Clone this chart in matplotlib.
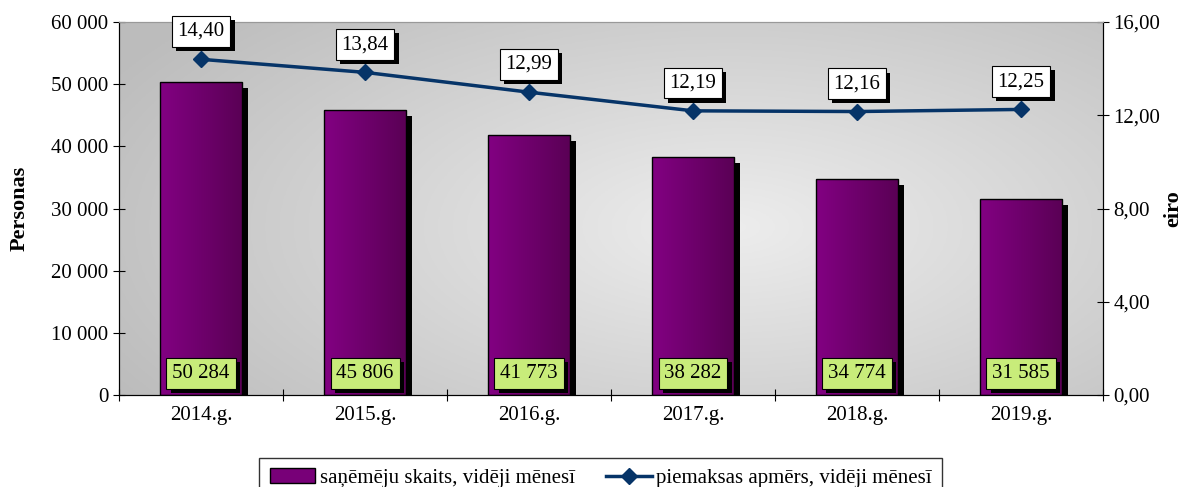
import matplotlib.pyplot as plt
import matplotlib.transforms as mtransforms
import matplotlib.patheffects as pe
import numpy as np
from matplotlib.patches import Rectangle, Patch
from matplotlib.lines import Line2D

plt.rcParams['font.family'] = ['Liberation Serif', 'DejaVu Serif']

years = ["2014.g.", "2015.g.", "2016.g.", "2017.g.", "2018.g.", "2019.g."]
recipients = [50284, 45806, 41773, 38282, 34774, 31585]
payment = [14.40, 13.84, 12.99, 12.19, 12.16, 12.25]

FS = 15
shadow = [pe.withSimplePatchShadow(offset=(3, -3), shadow_rgbFace='black', alpha=1.0)]

fig = plt.figure(figsize=(11.89, 4.87), dpi=100)
ax = fig.add_axes([0.1001, 0.1889, 0.8276, 0.7659])
ax2 = ax.twinx()

x = np.arange(len(years))

# grey background with a light spot in the middle
gx, gy = np.meshgrid(np.linspace(0, 1, 300), np.linspace(0, 1, 150))
r = np.sqrt(((gx - 0.62) / 0.75) ** 2 + ((gy - 0.45) / 0.9) ** 2)
bg = np.clip(0.93 - 0.2 * r, 0.74, 0.93)
ax.imshow(np.dstack([bg, bg, bg]), extent=[0, 1, 0, 1], transform=ax.transAxes,
          aspect='auto', zorder=0, origin='lower')

w = 0.5
grad = np.linspace(0, 1, 100).reshape(1, -1)
c1 = np.array([0x82, 0x00, 0x82]) / 255
c2 = np.array([0x5a, 0x00, 0x55]) / 255
bar_img = c1 + (c2 - c1) * grad[..., None]
off = mtransforms.ScaledTranslation(6 / 100, -6 / 100, fig.dpi_scale_trans)
for xi, v in zip(x, recipients):
    sh = Rectangle((xi - w / 2, 0), w, v, facecolor='black', edgecolor='none', zorder=1,
                   transform=ax.transData + off)
    ax.add_patch(sh)
    im = ax.imshow(bar_img, extent=[xi - w / 2, xi + w / 2, 0, v], aspect='auto', zorder=2)
    rect = Rectangle((xi - w / 2, 0), w, v, facecolor='none', edgecolor='black', lw=1, zorder=3)
    ax.add_patch(rect)
    im.set_clip_path(rect)
    t = ax.text(xi, 3500, f"{v:,}".replace(",", " "), ha='center', va='center', fontsize=FS, zorder=5,
                bbox=dict(boxstyle='square,pad=0.28', facecolor='#c8ec7a', edgecolor='black', lw=0.8))
    t.get_bbox_patch().set_path_effects(shadow)
ax.set_xlim(-0.5, len(years) - 0.5)
ax.set_ylim(0, 60000)
ax2.set_ylim(0, 16)

line_color = '#063468'
ax2.plot(x, payment, color=line_color, lw=2.5, marker='D', markersize=8, zorder=5)
for xi, v in zip(x, payment):
    s = f"{v:.2f}".replace(".", ",")
    t = ax2.annotate(s, (xi, v), xytext=(0, 20), textcoords='offset points', ha='center', va='center',
                     fontsize=FS,
                     bbox=dict(boxstyle='square,pad=0.28', facecolor='white', edgecolor='black', lw=0.8))
    t.get_bbox_patch().set_path_effects(shadow)

ax.set_xticks(np.arange(-0.5, len(years), 1))
ax.set_xticklabels([])
ax.set_xticks(x, minor=True)
ax.set_xticklabels(years, minor=True, fontsize=FS)
ax.tick_params(axis='x', which='major', direction='inout', length=8)
ax.tick_params(axis='x', which='minor', length=0, pad=8)
ax.set_yticks(np.arange(0, 60001, 10000))
ax.set_yticklabels([f"{v:,}".replace(",", " ") for v in range(0, 60001, 10000)], fontsize=FS)
ax.tick_params(axis='y', direction='inout', length=8)
ax2.set_yticks(np.arange(0, 16.1, 4))
ax2.set_yticklabels([f"{v:.2f}".replace(".", ",") for v in np.arange(0, 16.1, 4)], fontsize=FS)
ax2.tick_params(axis='y', direction='inout', length=8)

ax.set_ylabel("Personas", fontsize=16, fontweight='bold', labelpad=16)
ax2.set_ylabel("eiro", fontsize=16, fontweight='bold', labelpad=2)

ax.spines['top'].set_color('#999999')
ax2.spines['top'].set_color('#999999')

handles = [Patch(facecolor='#780078', edgecolor='black'),
           Line2D([0], [0], color=line_color, lw=2.5, marker='D', markersize=8)]
fig.legend(handles, ["saņēmēju skaits, vidēji mēnesī", "piemaksas apmērs, vidēji mēnesī"],
           loc='lower center', bbox_to_anchor=(0.505, -0.045), ncol=2, fontsize=FS,
           frameon=True, fancybox=False, edgecolor='black', handlelength=2.2,
           handletextpad=0.2, columnspacing=1.5, borderpad=0.5)

fig.savefig("out.png", dpi=100)
